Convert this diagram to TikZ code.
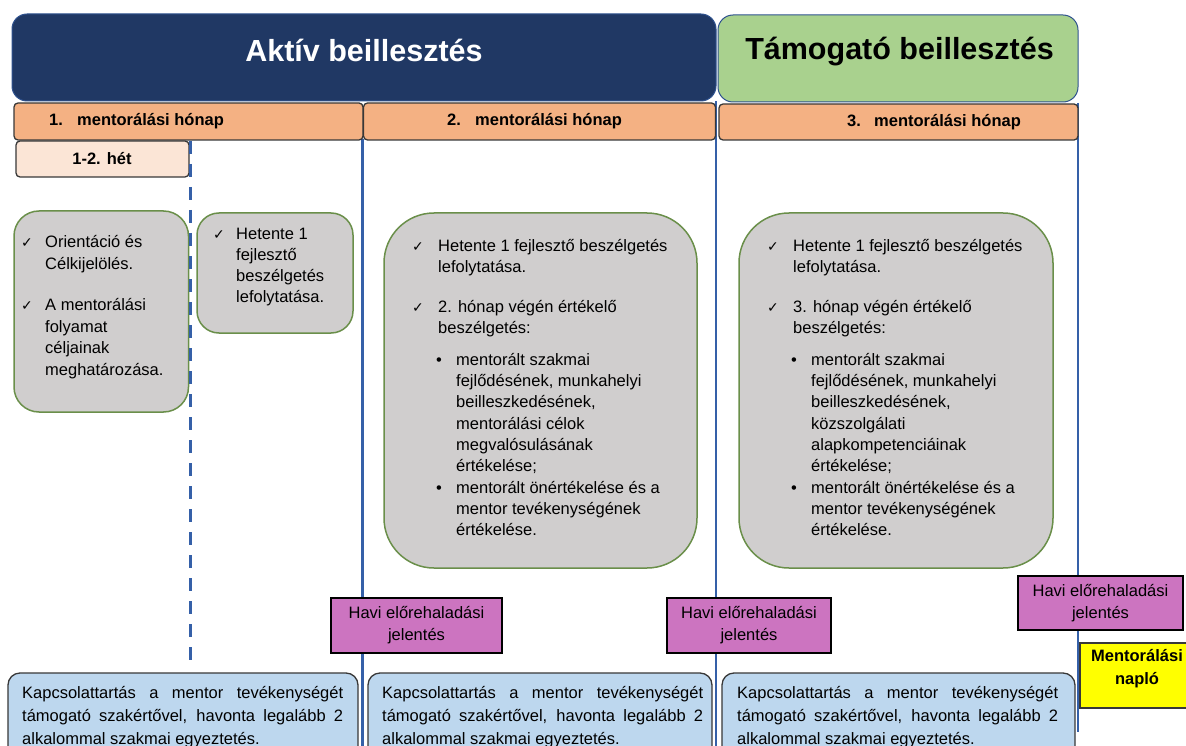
\documentclass[tikz,border=0pt]{standalone}
\usepackage{fontspec}
\setmainfont{Liberation Sans}
\newfontfamily\dejavu{DejaVu Sans}
\definecolor{hdrblue}{HTML}{203864}
\definecolor{hdredge}{HTML}{2F528F}
\definecolor{hdrgreen}{HTML}{A9D18E}
\definecolor{orng}{HTML}{F4B183}
\definecolor{peach}{HTML}{FBE5D6}
\definecolor{grayfill}{HTML}{D0CECE}
\definecolor{grayedge}{HTML}{6A8F4A}
\definecolor{purp}{HTML}{CC74C0}
\definecolor{lblue}{HTML}{BDD7EE}
\definecolor{sepblue}{HTML}{3560A8}
\definecolor{edge}{HTML}{383838}
\definecolor{yel}{HTML}{FFFF00}
\newcommand{\ck}{{\dejavu\fontsize{14}{14}\selectfont ✓}}
\newcommand{\bul}{\hspace*{4pt}•}
\newcommand{\jline}[1]{\makebox[321pt][s]{#1}}
\tikzset{
  boxbase/.style={rectangle, inner sep=0pt, outer sep=0pt},
  hdrbox/.style={boxbase, rounded corners=15pt, draw=hdredge, line width=1pt},
  monthbox/.style={boxbase, rounded corners=4pt, draw=edge, line width=1.3pt, fill=orng},
  weekbox/.style={boxbase, rounded corners=4pt, draw=edge, line width=1.3pt, fill=peach},
  actbox/.style={boxbase, draw=grayedge, line width=1.5pt, fill=grayfill},
  reportbox/.style={boxbase, draw=black, line width=1.3pt, fill=purp, align=center, font=\fontsize{16.5}{22}\selectfont},
  logbox/.style={boxbase, draw=edge, line width=1.3pt, fill=yel},
  contactbox/.style={boxbase, rounded corners=12pt, draw=edge, line width=1.3pt, fill=lblue},
  sepline/.style={draw=sepblue, line width=2.4pt},
  sepdashed/.style={draw=sepblue, line width=3pt, dash pattern=on 13pt off 10pt},
  titletext/.style={anchor=base, inner sep=0pt, font=\fontsize{30.5}{36}\selectfont\bfseries},
  boldtext/.style={inner sep=0pt, font=\fontsize{16.5}{21}\selectfont\bfseries},
  bodytext/.style={anchor=base west, inner sep=0pt, font=\fontsize{16.5}{21.3}\selectfont},
}
\begin{document}
\begin{tikzpicture}[x=1pt,y=-1pt]
\useasboundingbox (0,0) rectangle (1186,746);
\clip (0,0) rectangle (1186,746);

% separator coordinates
\coordinate (s1t) at (362.5,139); \coordinate (s1b) at (362.5,746);
\coordinate (s2t) at (716,101);   \coordinate (s2b) at (716,746);
\coordinate (s3t) at (1078,103);  \coordinate (s3b) at (1078,732);
\coordinate (dt) at (190.5,141);  \coordinate (db) at (190.5,662);

\draw[sepline] (s1t) -- (s1b);
\draw[sepline] (s2t) -- (s2b);
\draw[sepline] (s3t) -- (s3b);

% headers
\node[hdrbox, fill=hdrblue, minimum width=704, minimum height=87] (aktiv) at (364,57.5) {};
\node[hdrbox, fill=hdrgreen, minimum width=360, minimum height=87] (tamog) at (898,58.5) {};
\node[titletext, text=white] (aktivT) at (364,62) {Aktív beillesztés};
\node[titletext, text=black] (tamogT) at (899.5,60) {Támogató beillesztés};

% month bars
\node[monthbox, minimum width=349, minimum height=37] (m1) at (188.5,121.5) {};
\node[monthbox, minimum width=352, minimum height=37] (m2) at (539.5,121.5) {};
\node[monthbox, minimum width=359, minimum height=36] (m3) at (898.5,122) {};
\node[boldtext, anchor=base west] (m1T) at (49,126) {\makebox[28pt][l]{1.}mentorálási hónap};
\node[boldtext, anchor=base west] (m2T) at (447,125.5) {\makebox[28pt][l]{2.}mentorálási hónap};
\node[boldtext, anchor=base west] (m3T) at (847,126.5) {\makebox[27pt][l]{3.}mentorálási hónap};

% week box
\node[weekbox, minimum width=173, minimum height=36] (wk) at (102.5,159) {};
\node[boldtext, anchor=base] (wkT) at (102,165) {1-2. hét};

% activity boxes
\node[actbox, rounded corners=25pt, minimum width=174.5, minimum height=201] (ga) at (101.25,311.5) {};
\node[actbox, rounded corners=22pt, minimum width=156, minimum height=120] (gb) at (275,273) {};
\node[actbox, rounded corners=50pt, minimum width=313, minimum height=355] (gc) at (540.5,390.5) {};
\node[actbox, rounded corners=50pt, minimum width=314, minimum height=355] (gd) at (896,390.5) {};

\node[bodytext, font=\fontsize{16.5}{21.5}\selectfont] (gaT) at (21,247.5) {\begin{tabular}[t]{@{}p{24pt}@{}l@{}}
\ck & Orientáció és\\
 & Célkijelölés.\\[20pt]
\ck & A mentorálási\\
 & folyamat\\
 & céljainak\\
 & meghatározása.
\end{tabular}};

\node[bodytext, font=\fontsize{16.5}{21}\selectfont] (gbT) at (213,239.5) {\begin{tabular}[t]{@{}p{23pt}@{}l@{}}
\ck & Hetente 1\\
 & fejlesztő\\
 & beszélgetés\\
 & lefolytatása.
\end{tabular}};

\node[bodytext] (gcT) at (412,251.5) {\begin{tabular}[t]{@{}p{20pt}@{}p{24pt}@{}l@{}}
\ck & \multicolumn{2}{l@{}}{Hetente 1 fejlesztő beszélgetés}\\
 & \multicolumn{2}{l@{}}{lefolytatása.}\\[18pt]
\ck & \multicolumn{2}{l@{}}{2. hónap végén értékelő}\\
 & \multicolumn{2}{l@{}}{beszélgetés:}\\[10.5pt]
 & \bul & mentorált szakmai\\
 & & fejlődésének, munkahelyi\\
 & & beilleszkedésének,\\
 & & mentorálási célok\\
 & & megvalósulásának\\
 & & értékelése;\\
 & \bul & mentorált önértékelése és a\\
 & & mentor tevékenységének\\
 & & értékelése.
\end{tabular}};

\node[bodytext] (gdT) at (767,251.5) {\begin{tabular}[t]{@{}p{20pt}@{}p{24pt}@{}l@{}}
\ck & \multicolumn{2}{l@{}}{Hetente 1 fejlesztő beszélgetés}\\
 & \multicolumn{2}{l@{}}{lefolytatása.}\\[18pt]
\ck & \multicolumn{2}{l@{}}{3. hónap végén értékelő}\\
 & \multicolumn{2}{l@{}}{beszélgetés:}\\[10.5pt]
 & \bul & mentorált szakmai\\
 & & fejlődésének, munkahelyi\\
 & & beilleszkedésének,\\
 & & közszolgálati\\
 & & alapkompetenciáinak\\
 & & értékelése;\\
 & \bul & mentorált önértékelése és a\\
 & & mentor tevékenységének\\
 & & értékelése.
\end{tabular}};

% dashed week separator
\draw[sepdashed] (dt) -- (db);

% reports
\node[reportbox, minimum width=171, minimum height=55] (r1) at (416.5,625.5) {Havi előrehaladási\\jelentés};
\node[reportbox, minimum width=164, minimum height=55] (r2) at (749,625.5) {Havi előrehaladási\\jelentés};
\node[reportbox, minimum width=165, minimum height=54] (r3) at (1100.5,603) {Havi előrehaladási\\jelentés};

% log
\node[logbox, minimum width=112, minimum height=65] (log) at (1136,675.5) {};
\node[boldtext, align=center, font=\fontsize{16.5}{23}\selectfont\bfseries] (logT) at (1137,669) {Mentorálási\\napló};

% contact boxes
\node[contactbox, minimum width=350, minimum height=90] (c1) at (183,718) {};
\node[contactbox, minimum width=344, minimum height=90] (c2) at (540,718) {};
\node[contactbox, minimum width=353, minimum height=90] (c3) at (898.5,718) {};
\node[bodytext, font=\fontsize{16.5}{22.75}\selectfont] (c1T) at (22,698.5) {\begin{tabular}[t]{@{}l@{}}
\jline{Kapcsolattartás a mentor tevékenységét}\\
\jline{támogató szakértővel, havonta legalább 2}\\
alkalommal szakmai egyeztetés.
\end{tabular}};
\node[bodytext, font=\fontsize{16.5}{22.75}\selectfont] (c2T) at (382,698.5) {\begin{tabular}[t]{@{}l@{}}
\jline{Kapcsolattartás a mentor tevékenységét}\\
\jline{támogató szakértővel, havonta legalább 2}\\
alkalommal szakmai egyeztetés.
\end{tabular}};
\node[bodytext, font=\fontsize{16.5}{22.75}\selectfont] (c3T) at (737,698.5) {\begin{tabular}[t]{@{}l@{}}
\jline{Kapcsolattartás a mentor tevékenységét}\\
\jline{támogató szakértővel, havonta legalább 2}\\
alkalommal szakmai egyeztetés.
\end{tabular}};
\end{tikzpicture}
\end{document}
